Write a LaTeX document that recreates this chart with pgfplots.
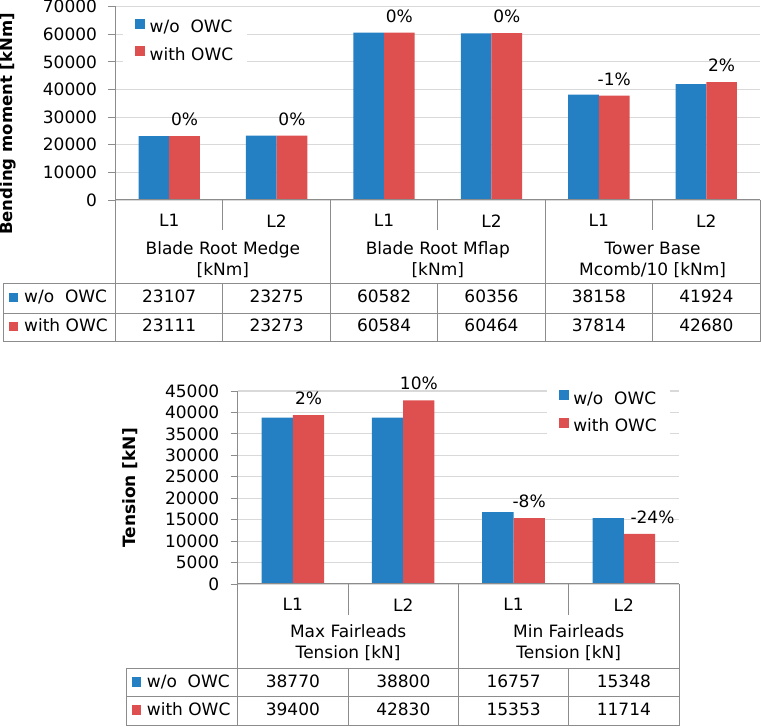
\documentclass[border=0pt]{standalone}
\usepackage{pgfplots}
\pgfplotsset{compat=1.18}
\usepackage{fontspec}
\setmainfont{DejaVu Sans}
\definecolor{cblue}{HTML}{2580C3}
\definecolor{cred}{HTML}{DE5050}
\definecolor{gridc}{HTML}{D9D9D9}
\definecolor{linec}{HTML}{8C8C8C}
\newcommand{\fs}{\fontsize{17}{21}\selectfont}
\pgfplotsset{
  mybar/.style={
    ybar=0pt, scale only axis, clip=false,
    axis line style={draw=none},
    tick align=outside, ytick pos=left, xtick pos=bottom,
    major tick length=7pt,
    ytick style={linec, line width=0.9pt},
    xtick style={draw=none},
    ymajorgrids, grid style={gridc, line width=1.1pt},
    ymin=0, scaled y ticks=false,
    /pgf/number format/1000 sep={},
    /pgf/number format/assume math mode=true,
    yticklabel style={font=\fs, xshift=-8pt},
    xticklabel style={font=\fs, yshift=-4pt},
    xtick=data,
    legend cell align=left,
    every node near coord/.append style={font=\fs, anchor=center, yshift=16.5pt, text=black},
  }
}
\begin{document}
\begin{tikzpicture}[x=1pt,y=1pt]
\useasboundingbox (0,0) rectangle (761,727);
% ---------------- top chart ----------------
\begin{axis}[mybar, at={(115.5pt,527pt)}, anchor=south west,
  width=644.5pt, height=193.3pt,
  xmin=-0.5, xmax=5.5, ymax=70000, ytick={0,10000,...,70000},
  xticklabels={L1,L2,L1,L2,L1,L2},
  bar width=30.7pt,
  legend style={at={(0.0116,0.962)}, anchor=north west, draw=none, fill=white,
    font=\fs, inner xsep=12pt, inner ysep=4.5pt, row sep=9pt, column sep=3pt,
    nodes={inner sep=1.5pt, text height=12pt, text depth=3pt}},
  legend image code/.code={\draw[#1, draw=none] (0pt,-0.5pt) rectangle (10pt,9.5pt);},
]
\addplot[fill=cblue, draw=none] coordinates {(0,23107) (1,23275) (2,60582) (3,60356) (4,38158) (5,41924)};
\addplot[fill=cred, draw=none, nodes near coords, point meta=explicit symbolic]
  coordinates {(0,23111) [0\%] (1,23273) [0\%] (2,60584) [0\%] (3,60464) [0\%] (4,37814) [-1\%] (5,42680) [2\%]};
\legend{w/o\ \ OWC, with OWC}
\end{axis}
% table lines top
\begin{scope}[linec, line width=1pt]
\draw (115.5,720.3) -- (115.5,385);
\draw (115.5,527) -- (760,527);
\foreach \x in {330.3,545.2,760} \draw (\x,527) -- (\x,385);
\foreach \x in {222.9,437.8,652.6} {\draw (\x,527) -- (\x,497); \draw (\x,443) -- (\x,385);}
\draw (3.3,443) -- (3.3,385);
\foreach \y in {443,413.7,385} \draw (3.3,\y) -- (760,\y);
\end{scope}
\node[font=\fs, align=center] at (222.9,467) {Blade Root Medge\\{}[kNm]};
\node[font=\fs, align=center] at (437.8,467) {Blade Root Mflap\\{}[kNm]};
\node[font=\fs, align=center] at (652.6,467) {Tower Base\\Mcomb/10 [kNm]};
\fill[cblue] (8.8,424.7) rectangle (18.3,434.2);
\fill[cred] (8.8,395.7) rectangle (18.3,405.2);
\node[font=\fs, anchor=west, inner sep=0pt, text height=12pt, text depth=3pt] at (24,428.5) {w/o\ \ OWC};
\node[font=\fs, anchor=west, inner sep=0pt, text height=12pt, text depth=3pt] at (24,399.5) {with OWC};
\foreach \x/\a/\b in {169.2/23107/23111, 276.6/23275/23273, 384.1/60582/60584, 491.5/60356/60464, 598.9/38158/37814, 706.3/41924/42680} {
  \node[font=\fs, text height=12pt, text depth=3pt, inner sep=0pt] at (\x,428.5) {\a};
  \node[font=\fs, text height=12pt, text depth=3pt, inner sep=0pt] at (\x,399.5) {\b};
}
\node[font=\fontsize{16.5}{20}\selectfont\bfseries, rotate=90] at (8.5,603) {Bending moment [kNm]};
% ---------------- bottom chart ----------------
\begin{axis}[mybar, at={(237.7pt,143pt)}, anchor=south west,
  width=441.3pt, height=193pt,
  xmin=-0.5, xmax=3.5, ymax=45000, ytick={0,5000,...,45000},
  xticklabels={L1,L2,L1,L2},
  bar width=31.3pt,
  legend style={at={(0.700,1.029)}, anchor=north west, draw=none, fill=white,
    font=\fs, inner xsep=12pt, inner ysep=4.5pt, row sep=9pt, column sep=3pt,
    nodes={inner sep=1.5pt, text height=12pt, text depth=3pt}},
  legend image code/.code={\draw[#1, draw=none] (0pt,-0.5pt) rectangle (10pt,9.5pt);},
]
\addplot[fill=cblue, draw=none] coordinates {(0,38770) (1,38800) (2,16757) (3,15348)};
\addplot[fill=cred, draw=none, nodes near coords, point meta=explicit symbolic]
  coordinates {(0,39400) [2\%] (1,42830) [10\%] (2,15353) [-8\%] (3,11714) [\hspace*{26pt}-24\%]};
\legend{w/o\ \ OWC, with OWC}
\end{axis}
\begin{scope}[linec, line width=1pt]
\draw (237.7,336) -- (237.7,1);
\draw (237.7,143) -- (679,143);
\foreach \x in {458.4,679} \draw (\x,143) -- (\x,1);
\foreach \x in {348.1,568.7} {\draw (\x,143) -- (\x,112); \draw (\x,58) -- (\x,1);}
\draw (126,58) -- (126,1);
\foreach \y in {58,30,1} \draw (126,\y) -- (679,\y);
\end{scope}
\node[font=\fs, align=center] at (348.1,84.7) {Max Fairleads\\Tension [kN]};
\node[font=\fs, align=center] at (568.7,84.7) {Min Fairleads\\Tension [kN]};
\fill[cblue] (131.9,40) rectangle (141.4,49.5);
\fill[cred] (131.9,12) rectangle (141.4,21.5);
\node[font=\fs, anchor=west, inner sep=0pt, text height=12pt, text depth=3pt] at (146.7,44) {w/o\ \ OWC};
\node[font=\fs, anchor=west, inner sep=0pt, text height=12pt, text depth=3pt] at (146.7,16) {with OWC};
\foreach \x/\a/\b in {292.9/38770/39400, 403.3/38800/42830, 513.6/16757/15353, 623.9/15348/11714} {
  \node[font=\fs, text height=12pt, text depth=3pt, inner sep=0pt] at (\x,44) {\a};
  \node[font=\fs, text height=12pt, text depth=3pt, inner sep=0pt] at (\x,16) {\b};
}
\node[font=\fs\bfseries, rotate=90] at (130,239) {Tension [kN]};
\end{tikzpicture}
\end{document}
